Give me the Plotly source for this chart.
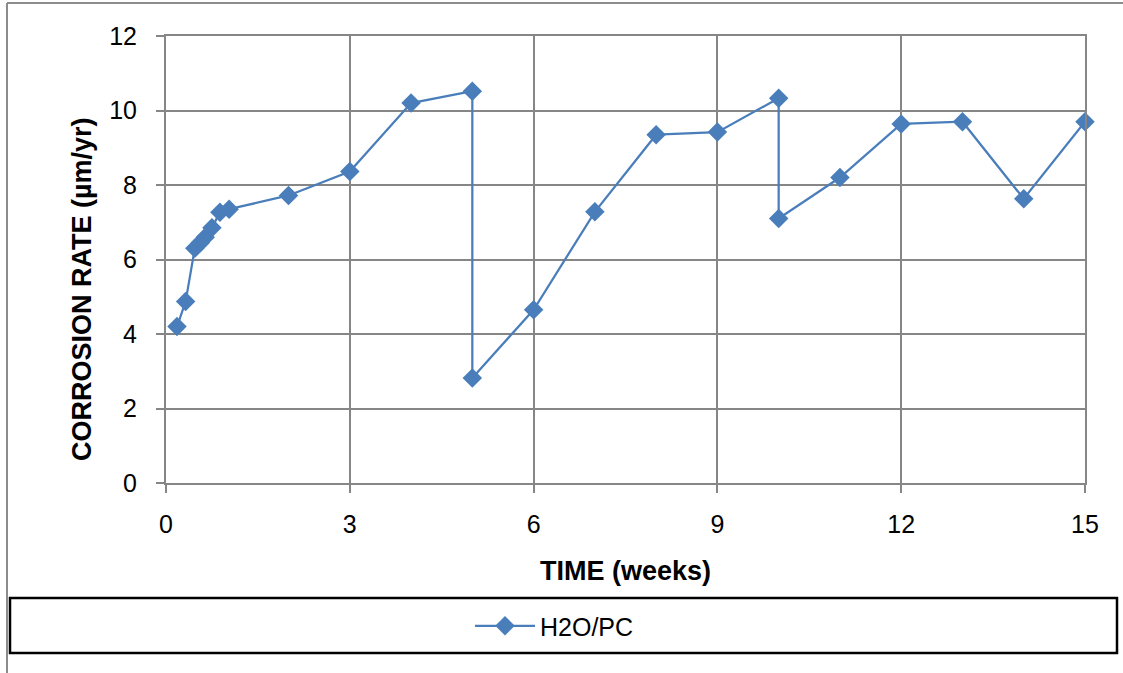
import plotly.graph_objects as go

# Corrosion rate measurements for H2O/PC over time
time_weeks = [0.18, 0.32, 0.47, 0.56, 0.64, 0.75, 0.88, 1.03,
              2, 3, 4, 5, 5, 6, 7, 8, 9, 10, 10, 11, 12, 13, 14, 15]
corrosion_rate = [4.2, 4.87, 6.3, 6.45, 6.6, 6.85, 7.27, 7.35,
                  7.72, 8.36, 10.2, 10.52, 2.82, 4.65, 7.28, 9.35, 9.42, 10.33, 7.1, 8.2, 9.64, 9.7, 7.63, 9.7]
series_name = "H2O/PC"

x_ticks = [0, 3, 6, 9, 12, 15]
y_ticks = [0, 2, 4, 6, 8, 10, 12]

BLUE = "#4A7EBB"
GRID = "#868686"
FONT = "Liberation Sans, Arial, sans-serif"

fig = go.Figure()
fig.add_trace(go.Scatter(
    x=time_weeks, y=corrosion_rate, name=series_name,
    mode="lines+markers",
    line=dict(color=BLUE, width=2.25),
    marker=dict(symbol="diamond", size=15, color=BLUE),
    cliponaxis=False,
))

# plot-area pixel frame -> paper conversion helpers
L, R, T, B, W, H = 166, 1085, 36, 483, 1123, 673
def px(x):
    return (x - L) / (R - L)
def py(y):
    return (B - y) / (B - T)

shapes = [
    # legend box
    dict(type="rect", xref="paper", yref="paper",
         x0=px(10), x1=px(1117), y0=py(598), y1=py(653),
         line=dict(color="black", width=2.5)),
    # outer chart border (left and top edges)
    dict(type="line", xref="paper", yref="paper",
         x0=px(7), x1=px(7), y0=py(3), y1=py(680),
         line=dict(color="#8C8C8C", width=2)),
    dict(type="line", xref="paper", yref="paper",
         x0=px(7), x1=px(1130), y0=py(3), y1=py(3),
         line=dict(color="#8C8C8C", width=2)),
]

# vertical axis title, placed as a rotated annotation
annotations = [
    dict(text="<b>CORROSION RATE (µm/yr)</b>", textangle=-90,
         xref="paper", yref="paper", x=px(82), y=py(289),
         xanchor="center", yanchor="middle", showarrow=False,
         font=dict(family=FONT, size=27, color="black")),
]

fig.update_layout(
    width=W, height=H,
    margin=dict(l=L, r=W - R, t=T, b=H - B),
    paper_bgcolor="white", plot_bgcolor="white",
    font=dict(family=FONT, size=24, color="black"),
    shapes=shapes,
    annotations=annotations,
    showlegend=True,
    legend=dict(orientation="h", x=px(470), xanchor="left",
                y=py(626), yanchor="middle",
                font=dict(family=FONT, size=25, color="black"),
                bgcolor="rgba(0,0,0,0)", itemwidth=60),
    xaxis=dict(
        range=[0, 15], tickvals=x_ticks, ticktext=[str(v) for v in x_ticks],
        showgrid=True, gridcolor=GRID, gridwidth=2,
        showline=True, linecolor=GRID, linewidth=2, mirror=True,
        ticks="outside", ticklen=8, tickcolor=GRID, tickwidth=2,
        ticklabelstandoff=10,
        zeroline=False,
        tickfont=dict(family=FONT, size=25, color="black"),
        title=dict(text="<b>TIME (weeks)</b>", standoff=24,
                   font=dict(family=FONT, size=27, color="black")),
    ),
    yaxis=dict(
        range=[0, 12], tickvals=y_ticks, ticktext=[str(v) for v in y_ticks],
        showgrid=True, gridcolor=GRID, gridwidth=2,
        showline=True, linecolor=GRID, linewidth=2, mirror=True,
        ticks="outside", ticklen=8, tickcolor=GRID, tickwidth=2,
        ticklabelstandoff=14,
        zeroline=False,
        tickfont=dict(family=FONT, size=25, color="black"),
    ),
)

fig.write_html("out.html")
